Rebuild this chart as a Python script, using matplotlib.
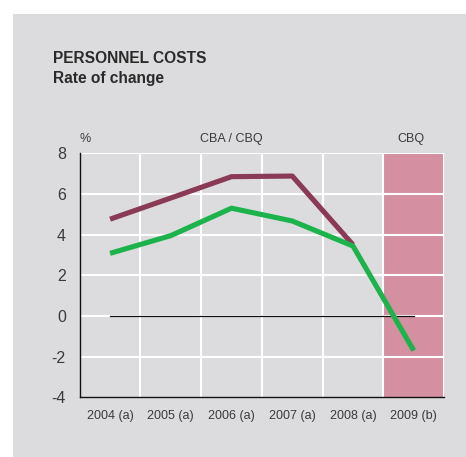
import matplotlib.pyplot as plt
import numpy as np
from matplotlib.patches import Rectangle

# rate of change of personnel costs, %
years = ["2004 (a)", "2005 (a)", "2006 (a)", "2007 (a)", "2008 (a)", "2009 (b)"]
cba_cbq = [4.76, 5.8, 6.85, 6.88, 3.5]
cbq = [3.08, 3.95, 5.3, 4.67, 3.44, -1.7]
y_ticks = [-4, -2, 0, 2, 4, 6, 8]

plt.rcParams['font.family'] = ['Liberation Sans', 'DejaVu Sans']

BG = '#dcdcde'
TXT = '#3a3a3a'

fig = plt.figure(figsize=(4.66, 4.57), dpi=100)
fig.patch.set_facecolor('white')
fig.patches.append(Rectangle((13 / 466, 0), 1, 1 - 14 / 457, transform=fig.transFigure,
                             facecolor=BG, edgecolor='none', zorder=-10))

ax = fig.add_axes([0.171, 0.1306, 0.782, 0.534])
ax.set_facecolor(BG)

n = len(years)
x = np.arange(n) + 0.5

# shaded band for the last (forecast) year
ax.axvspan(n - 1, n, color='#d48fa0', zorder=0.5, lw=0)

# white grid
for xv in range(1, n + 1):
    ax.axvline(xv, color='white', lw=1.5, zorder=1)
for yv in y_ticks[1:]:
    ax.axhline(yv, color='white', lw=1.5, zorder=1)

ax.plot([x[0], x[-1]], [0, 0], color='#111111', lw=0.9, zorder=2)

ax.plot(x[:len(cba_cbq)], cba_cbq, color='#8b3a55', lw=3.7, zorder=3, solid_capstyle='butt')
ax.plot(x, cbq, color='#1db34c', lw=3.7, zorder=4, solid_capstyle='butt')

ax.set_xlim(0, n)
ax.set_ylim(-4, 8)
ax.set_xticks(x)
ax.set_xticklabels(years, fontsize=9, color=TXT)
ax.set_yticks(y_ticks)
ax.set_yticklabels([str(v) for v in y_ticks], fontsize=11.5, color=TXT)
ax.tick_params(axis='x', length=0, pad=9)
ax.tick_params(axis='y', length=0, pad=10)

for s in ['top', 'right']:
    ax.spines[s].set_visible(False)
for s in ['left', 'bottom']:
    ax.spines[s].set_color('#111111')
    ax.spines[s].set_linewidth(1.0)
    ax.spines[s].set_zorder(5)

ax.text(0.0, 8.4, '%', fontsize=9, color=TXT, ha='left', va='bottom')
ax.text(2.5, 8.4, 'CBA / CBQ', fontsize=9, color=TXT, ha='center', va='bottom')
ax.text(5.45, 8.4, 'CBQ', fontsize=9, color=TXT, ha='center', va='bottom')

fig.text(53 / 466, 1 - 51 / 457, 'PERSONNEL COSTS', fontsize=11.2, fontweight='bold',
         color='#2a2a2a', ha='left', va='top')
fig.text(53 / 466, 1 - 71 / 457, 'Rate of change', fontsize=11.2, fontweight='bold',
         color='#2a2a2a', ha='left', va='top')

fig.savefig('out.png', dpi=100, facecolor='white')
